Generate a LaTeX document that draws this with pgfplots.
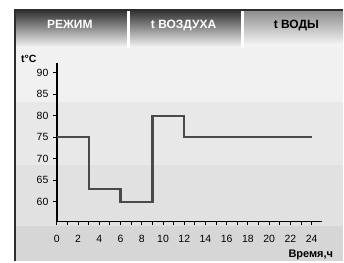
\documentclass[border=0pt]{standalone}
\usepackage{pgfplots}
\pgfplotsset{compat=1.18}
\usepackage{fontspec}
\setmainfont{Liberation Sans}
\definecolor{bandA}{HTML}{F1F1F1}
\definecolor{bandB}{HTML}{E8E8E8}
\definecolor{bandC}{HTML}{E1E1E1}
\definecolor{bandD}{HTML}{D6D6D6}
\definecolor{tabTop}{HTML}{343434}
\definecolor{tabMid}{HTML}{626262}
\definecolor{tabBot}{HTML}{EEEEEE}
\definecolor{tab3Top}{HTML}{8E8E8E}
\definecolor{tab3Mid}{HTML}{D2D2D2}
\definecolor{tab3Bot}{HTML}{F8F8F8}
\definecolor{lineC}{HTML}{4A4A4A}
\definecolor{frameC}{HTML}{2E2E2E}
\begin{document}
\begin{tikzpicture}[x=1pt,y=1pt]
\fill[white] (0,0) rectangle (344,262);
% panel bands
\fill[bandA] (15,160) rectangle (344,217);
\fill[bandB] (15,97) rectangle (344,160);
\fill[bandC] (15,35) rectangle (344,97);
\fill[bandD] (15,0) rectangle (344,35);
% tabs
\shade[top color=tabTop, middle color=tabMid, bottom color=tabBot] (16,216) rectangle (127,251);
\shade[top color=tabTop, middle color=tabMid, bottom color=tabBot] (131,216) rectangle (241,251);
\shade[top color=tab3Top, middle color=tab3Mid, bottom color=tab3Bot] (245,216) rectangle (344,251);
\fill[white] (127.5,214) rectangle (130.5,251);
\fill[white] (241.5,214) rectangle (244.5,251);
% frame
\draw[frameC, line width=1.6pt] (15,0) -- (15,251.8) -- (344,251.8);
% tab labels
\node[white, font=\bfseries\fontsize{12}{13}\selectfont, anchor=base] at (70,233) {РЕЖИМ};
\node[white, font=\bfseries\fontsize{12}{13}\selectfont, anchor=base] at (184,233) {t ВОЗДУХА};
\node[black, font=\bfseries\fontsize{12}{13}\selectfont, anchor=base] at (297,233) {t ВОДЫ};
% axis labels
\node[font=\bfseries\fontsize{10.5}{11}\selectfont, anchor=base west, inner sep=0pt] at (21,199) {t°C};
\node[font=\bfseries\fontsize{11}{12}\selectfont, anchor=base east, inner sep=0pt] at (334,4) {Время,ч};
\begin{axis}[
  at={(57pt,40pt)}, anchor=south west,
  scale only axis, width=266pt, height=159pt,
  xmin=0, xmax=25, ymin=55.4, ymax=92.3,
  axis x line*=bottom, axis y line*=left,
  axis line style={black, line width=1.6pt, -},
  xtick={0,2,...,24}, minor xtick={1,3,...,23},
  ytick={60,65,...,90},
  tick align=outside,
  major tick length=4pt, minor tick length=4pt,
  tick style={black, line width=0.9pt},
  every tick label/.append style={font=\fontsize{10.5}{11}\selectfont, text=black},
  /pgf/number format/assume math mode=true,
  xticklabel style={yshift=-6pt},
  yticklabel style={xshift=-1pt},
  clip=false,
]
\addplot[const plot, lineC, line width=2.2pt] coordinates {
  (0,75) (3,63) (6,60) (9,80) (12,75) (24,75)
};
\end{axis}
\end{tikzpicture}
\end{document}
